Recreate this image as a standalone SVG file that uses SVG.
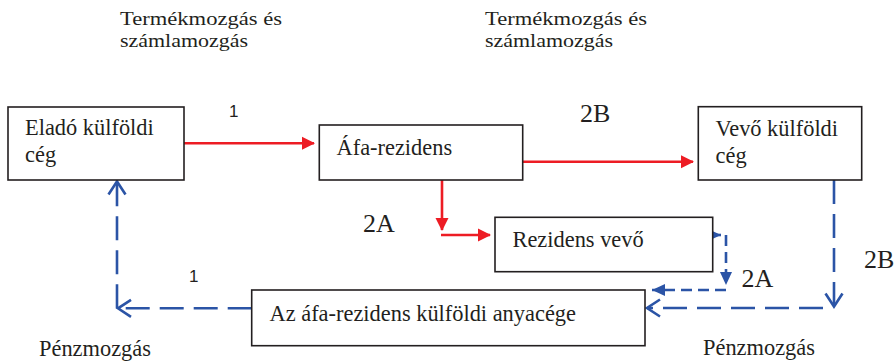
<svg xmlns="http://www.w3.org/2000/svg" width="896" height="362" viewBox="0 0 896 362">
  <style>
    .box { fill: #ffffff; stroke: #231f20; stroke-width: 1.6; }
    .t { font-family: "Liberation Serif", "Times New Roman", serif; font-size: 22.4px; fill: #231f20; }
    .cap { font-family: "Liberation Serif", "Times New Roman", serif; font-size: 19px; fill: #231f20; }
    .big { font-family: "Liberation Serif", "Times New Roman", serif; font-size: 26px; fill: #231f20; }
    .num { font-family: "Liberation Sans", Arial, sans-serif; font-size: 17px; fill: #231f20; }
    .red { stroke: #ed1c24; stroke-width: 2.6; fill: none; }
    .blue { stroke: #2b54a6; stroke-width: 2.6; fill: none; }
    .dashL { stroke-dasharray: 24 10; }
    .dashS { stroke-dasharray: 11 6; }
  </style>
  <defs>
    <marker id="redHead" markerUnits="userSpaceOnUse" markerWidth="13" markerHeight="14" refX="12" refY="6.5" orient="auto" overflow="visible">
      <path d="M0,0 L13,6.5 L0,13 z" fill="#ed1c24"/>
    </marker>
    <marker id="blueOpen" markerUnits="userSpaceOnUse" markerWidth="16" markerHeight="20" refX="13" refY="8.5" orient="auto" overflow="visible">
      <path d="M0,0 L13,8.5 L0,17" fill="none" stroke="#2b54a6" stroke-width="2.6"/>
    </marker>
    <marker id="blueTri" markerUnits="userSpaceOnUse" markerWidth="14" markerHeight="13" refX="13" refY="6" orient="auto" overflow="visible">
      <path d="M0,0 L13,6 L0,12 z" fill="#2b54a6"/>
    </marker>
  </defs>

  <!-- flow captions -->
  <g id="captions">
    <text class="cap" x="120" y="25" textLength="162" lengthAdjust="spacingAndGlyphs">Termékmozgás és</text>
    <text class="cap" x="120" y="47" textLength="128" lengthAdjust="spacingAndGlyphs">számlamozgás</text>
    <text class="cap" x="485" y="25" textLength="162" lengthAdjust="spacingAndGlyphs">Termékmozgás és</text>
    <text class="cap" x="485" y="47" textLength="128" lengthAdjust="spacingAndGlyphs">számlamozgás</text>
    <text class="t" x="39" y="356">Pénzmozgás</text>
    <text class="t" x="703" y="355">Pénzmozgás</text>
  </g>

  <!-- connectors -->
  <g id="connectors">
    <!-- goods and invoice flow (red) -->
    <line class="red" x1="184" y1="143.3" x2="314" y2="143.3" marker-end="url(#redHead)"/>
    <line class="red" x1="523" y1="161.7" x2="693" y2="161.7" marker-end="url(#redHead)"/>
    <line class="red" x1="442" y1="180" x2="442" y2="230" marker-end="url(#redHead)"/>
    <line class="red" x1="441" y1="235" x2="490" y2="235" marker-end="url(#redHead)"/>

    <!-- money flow (blue, dashed) -->
    <line class="blue dashL" x1="251.7" y1="308.3" x2="118" y2="308.3" marker-end="url(#blueOpen)"/>
    <line class="blue dashL" x1="117" y1="308.3" x2="117" y2="181.5" marker-end="url(#blueOpen)"/>
    <line class="blue dashL" x1="834" y1="180" x2="834" y2="306.5" marker-end="url(#blueOpen)"/>
    <line class="blue dashL" x1="823" y1="308" x2="647" y2="308" marker-end="url(#blueOpen)"/>
    <line class="blue" x1="712.7" y1="235" x2="721" y2="235" marker-end="url(#blueTri)"/>
    <line class="blue dashS" x1="726" y1="235" x2="726" y2="285" marker-end="url(#blueTri)"/>
    <line class="blue dashS" x1="726" y1="290" x2="652" y2="290" marker-end="url(#blueTri)"/>
  </g>

  <!-- connector labels -->
  <g id="labels">
    <text class="num" x="229" y="117">1</text>
    <text class="big" x="580" y="121.7">2B</text>
    <text class="big" x="363" y="231.7">2A</text>
    <text class="big" x="741.5" y="286.7">2A</text>
    <text class="big" x="864" y="268">2B</text>
    <text class="num" x="189" y="282">1</text>
  </g>

  <g id="seller">
    <rect class="box" x="8" y="107" width="176" height="73"/>
    <text class="t" x="25" y="135">Eladó külföldi</text>
    <text class="t" x="25" y="162">cég</text>
  </g>

  <g id="vat-resident">
    <rect class="box" x="319.3" y="125" width="203.4" height="55"/>
    <text class="t" x="336.5" y="155">Áfa-rezidens</text>
  </g>

  <g id="buyer">
    <rect class="box" x="698.3" y="106.7" width="163.4" height="73.3"/>
    <text class="t" x="715.5" y="136">Vevő külföldi</text>
    <text class="t" x="715.5" y="163">cég</text>
  </g>

  <g id="resident-buyer">
    <rect class="box" x="495" y="217.3" width="217.7" height="54.4"/>
    <text class="t" x="512.5" y="246.5">Rezidens vevő</text>
  </g>

  <g id="parent">
    <rect class="box" x="251.7" y="290" width="393.3" height="55.7"/>
    <text class="t" x="269.5" y="320.7">Az áfa-rezidens külföldi anyacége</text>
  </g>
</svg>
